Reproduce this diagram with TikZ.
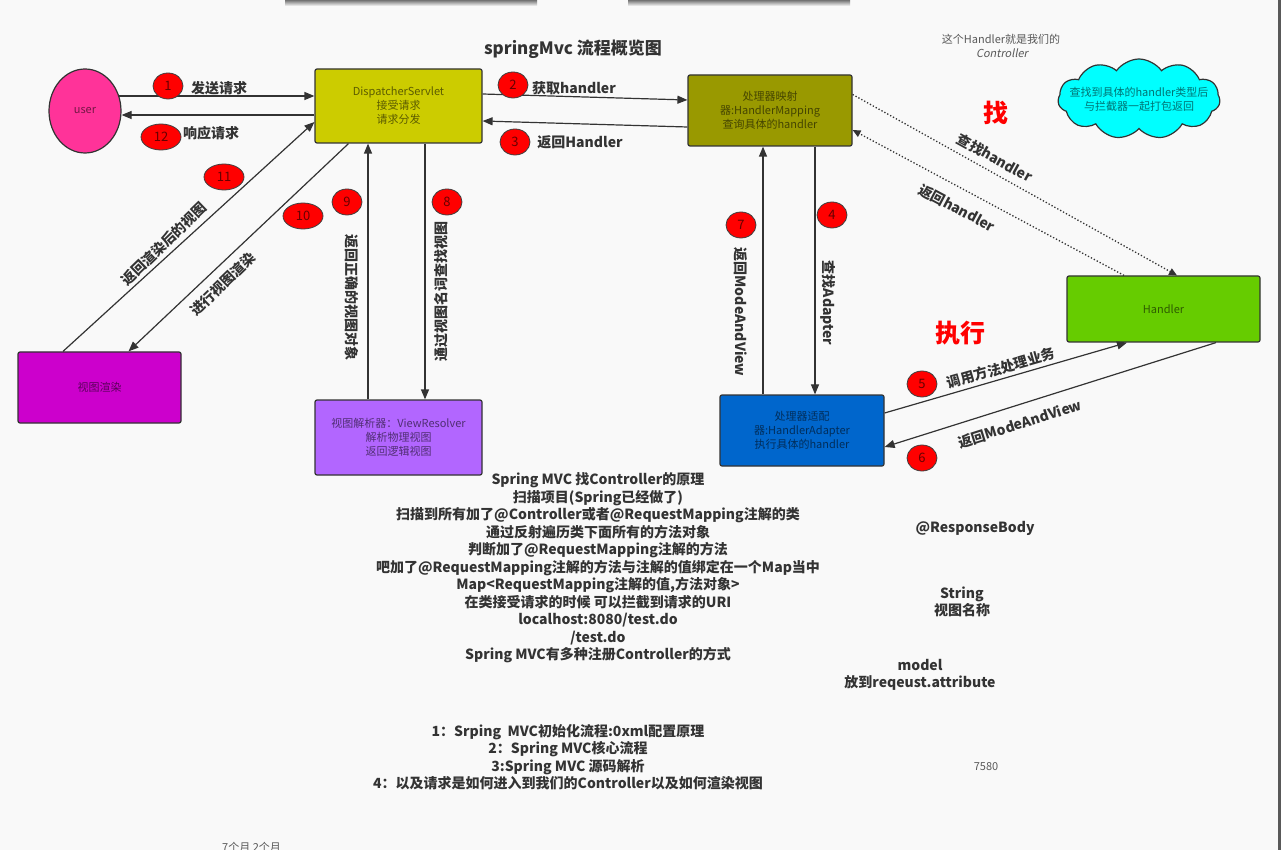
\documentclass[tikz,border=0pt]{standalone}
\usepackage{fontspec}
\setmainfont{Noto Sans CJK SC}
\newfontfamily\slfont{Noto Sans CJK SC}[FakeSlant=0.2]
\usetikzlibrary{shapes.geometric,shapes.symbols,arrows.meta,calc}
\definecolor{bgc}{HTML}{F9F9F9}
\definecolor{userc}{HTML}{FF3399}
\definecolor{dsc}{HTML}{CCCC00}
\definecolor{hmc}{HTML}{999900}
\definecolor{hdc}{HTML}{66CC00}
\definecolor{adc}{HTML}{0066CC}
\definecolor{vrc}{HTML}{B266FF}
\definecolor{rdc}{HTML}{CC00CC}
\definecolor{cloudc}{HTML}{00FFFF}
\definecolor{ink}{HTML}{333333}
\begin{document}
\begin{tikzpicture}[x=1pt,y=-1pt,
  box/.style={rectangle, draw=ink, line width=1.2pt, rounded corners=2pt, align=center,
    font=\fontsize{11}{14}\selectfont, text=black, text opacity=0.55, inner sep=0pt},
  arr/.style={draw=ink, line width=1.2pt, -{Triangle[length=10pt,width=8pt]}},
  darr/.style={draw=ink, line width=1.3pt, dotted, -{Triangle[length=8pt,width=7pt]}},
  numc/.style={ellipse, draw=black!75, line width=0.8pt, fill=red, minimum width=30pt, minimum height=26pt,
    inner sep=0pt, font=\fontsize{13}{13}\selectfont, text=black!60!red},
  numw/.style={numc, minimum width=40pt},
  lbl/.style={font=\bfseries\fontsize{14}{16}\selectfont, text=ink, inner sep=0pt},
  note/.style={font=\bfseries\fontsize{14}{17.5}\selectfont, text=ink, align=center, inner sep=0pt},
  small/.style={font=\fontsize{11}{13}\selectfont, text=black!65, inner sep=0pt, align=center},
  red/.style={font=\bfseries\fontsize{25}{26}\selectfont, text=red, inner sep=0pt}
]
\useasboundingbox (0,0) rectangle (1283,850);
\fill[bgc] (0,0) rectangle (1283,850);
\shade[top color=black!55, bottom color=bgc] (285,0) rectangle (537,6);
\shade[top color=black!55, bottom color=bgc] (628,0) rectangle (850,6);
\fill[black!65] (1278,0) rectangle (1281,850);
\fill[white] (1281,0) rectangle (1283,850);

% title and notes
\node[font=\bfseries\fontsize{17}{20}\selectfont, text=ink, inner sep=0pt] (title) at (573,49) {springMvc 流程概览图};
\node[small] (hnote) at (1001,39) {这个Handler就是我们的};
\node[small, font=\slfont\fontsize{11}{13}\selectfont] (hnote2) at (1002,53) {Controller};
\node[red] (zhao) at (996,113) {找};
\node[red] (zx) at (960,333) {执行};
\node[cloud, cloud puffs=11, cloud puff arc=110, cloud ignores aspect, draw=ink, line width=1.2pt, fill=cloudc,
  minimum width=162pt, minimum height=80pt, inner sep=0pt] (cloud) at (1139,99) {};
\node[align=center, font=\fontsize{11}{14}\selectfont, text=black, text opacity=0.55, inner sep=0pt] (cloudtxt) at (cloud.center)
  {查找到具体的handler类型后\\与拦截器一起打包返回};

% main nodes
\node[ellipse, draw=ink, line width=1.2pt, fill=userc, minimum width=72pt, minimum height=84pt,
  font=\fontsize{11}{13}\selectfont, text=black, text opacity=0.55, inner sep=0pt] (user) at (85,111) {user};
\node[box, fill=dsc, minimum width=167pt, minimum height=74pt] (ds) at (398.5,106) {DispatcherServlet\\接受请求\\请求分发};
\node[box, fill=hmc, minimum width=164pt, minimum height=71pt] (hm) at (770,110.5) {处理器映射\\器:HandlerMapping\\查询具体的handler};
\node[box, fill=hdc, minimum width=193pt, minimum height=66pt] (hd) at (1163.5,309) {Handler};
\node[box, fill=adc, minimum width=164pt, minimum height=71pt] (ad) at (802,430.5) {处理器适配\\器:HandlerAdapter\\执行具体的handler};
\node[box, fill=vrc, minimum width=167pt, minimum height=75pt] (vr) at (398.5,437.5) {视图解析器：ViewResolver\\解析物理视图\\返回逻辑视图};
\node[box, fill=rdc, minimum width=163pt, minimum height=71pt] (rd) at (99.5,387.5) {视图渲染};

% connectors
\draw[arr] ($(user.east)+(-3,-15)$) -- ($(ds.west)+(0,-10)$);
\draw[arr] ($(ds.west)+(0,9)$) -- ($(user.east)+(0,4)$);
\draw[arr] ($(ds.east)+(0,-12)$) -- ($(hm.west)+(0,-10.5)$);
\draw[arr] ($(hm.west)+(0,16.5)$) -- ($(ds.east)+(0,15)$);
\draw[darr] ($(hm.east)+(0,-16)$) -- ($(hd.north)+(13.5,0)$);
\draw[darr] ($(hd.north)+(-39.5,0)$) -- ($(hm.east)+(0,19.5)$);
\draw[arr] ($(hm.south)+(45,0)$) -- ($(ad.north)+(13,0)$);
\draw[arr] ($(ad.north)+(-39,0)$) -- ($(hm.south)+(-7,0)$);
\draw[arr] ($(ad.east)+(0,-17.5)$) -- ($(hd.south)+(-36.5,0)$);
\draw[arr] ($(hd.south)+(52.5,0)$) -- ($(ad.east)+(0,16.5)$);
\draw[arr] ($(ds.south)+(26.5,0)$) -- ($(vr.north)+(26.5,0)$);
\draw[arr] ($(vr.north)+(-30.5,0)$) -- ($(ds.south)+(-30.5,0)$);
\draw[arr] ($(ds.south)+(-50,0)$) -- ($(rd.north)+(29,0)$);
\draw[arr] ($(rd.north)+(-36.5,0)$) -- ($(ds.west)+(0,16)$);

% number badges
\node[numc] (n1) at (168,86) {1};
\node[numc] (n2) at (513,85) {2};
\node[numc] (n3) at (515,142) {3};
\node[numc] (n4) at (832,215) {4};
\node[numc] (n5) at (922,384) {5};
\node[numc] (n6) at (922,458) {6};
\node[numc] (n7) at (741,225) {7};
\node[numc] (n8) at (447,202) {8};
\node[numc] (n9) at (347,202) {9};
\node[numw] (n10) at (303,216) {10};
\node[numw] (n11) at (224,177) {11};
\node[numw] (n12) at (161,137) {12};

% connector labels
\node[lbl] (l1) at (219,88) {发送请求};
\node[lbl] (l12) at (211,133) {响应请求};
\node[lbl] (l2) at (574,88) {获取handler};
\node[lbl] (l3) at (580,142) {返回Handler};
\node[lbl, rotate=-29] (lf) at (995,158) {查找handler};
\node[lbl, rotate=-28] (lr) at (957,208) {返回handler};
\node[lbl, rotate=-90] (l4) at (828,303) {查找Adapter};
\node[lbl, rotate=-90] (l7) at (741,312) {返回ModeAndView};
\node[lbl, rotate=16] (l5) at (1001,368) {调用方法处理业务};
\node[lbl, rotate=17.5] (l6) at (1020,424) {返回ModeAndView};
\node[lbl, rotate=-90] (l9) at (352,298) {返回正确的视图对象};
\node[lbl, rotate=90] (l8) at (441,292) {通过视图名词查找视图};
\node[lbl, rotate=44] (l11) at (164,244) {返回渲染后的视图};
\node[lbl, rotate=44] (l10) at (223,284) {进行视图渲染};

% text blocks
\node[note] (block) at (598,568) {Spring MVC 找Controller的原理\\扫描项目(Spring已经做了)\\扫描到所有加了@Controller或者@RequestMapping注解的类\\通过反射遍历类下面所有的方法对象\\判断加了@RequestMapping注解的方法\\吧加了@RequestMapping注解的方法与注解的值绑定在一个Map当中\\Map<RequestMapping注解的值,方法对象>\\在类接受请求的时候 可以拦截到请求的URI\\localhost:8080/test.do\\/test.do\\Spring MVC有多种注册Controller的方式};
\node[note] (rb) at (975,528) {@ResponseBody};
\node[note] (str) at (962,602) {String\\视图名称};
\node[note] (model) at (920,675) {model\\放到reqeust.attribute};
\node[note] (plan) at (568,757) {1：Srping\ \ MVC初始化流程:0xml配置原理\\2：Spring MVC核心流程\\3:Spring MVC 源码解析\\4：以及请求是如何进入到我们的Controller以及如何渲染视图};
\node[small] (num) at (986,767) {7580};
\node[small, anchor=north west] (months) at (222,842) {7个月 2个月};
\end{tikzpicture}
\end{document}
